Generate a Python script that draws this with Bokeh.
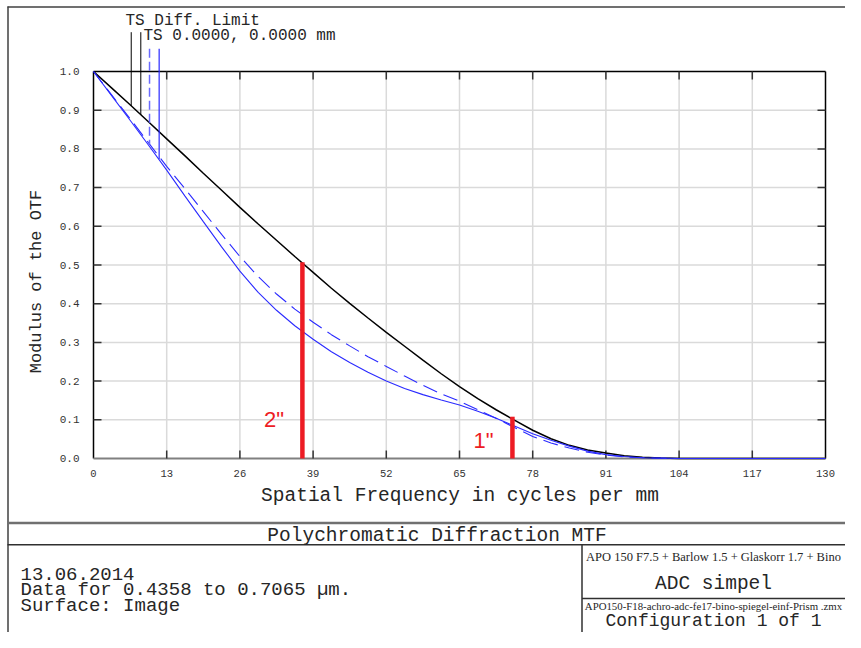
from bokeh.plotting import figure
from bokeh.models import Range1d
from bokeh.core.properties import value
from bokeh.embed import file_html
from bokeh.resources import INLINE

# ---------------- data ----------------
freq = [0, 3.25, 6.5, 9.75, 13, 16.25, 19.5, 22.75, 26, 29.25, 32.5, 35.75,
        39, 42.25, 45.5, 48.75, 52, 55.25, 58.5, 61.75, 65, 68.25, 71.5,
        74.75, 78, 81.25, 84.5, 87.75, 91, 94.25, 97.5, 100.75, 104,
        110.5, 117, 123.5, 130]
mtf_diff = [1.0, 0.957, 0.914, 0.870, 0.826, 0.782, 0.737, 0.693, 0.649, 0.606,
            0.564, 0.522, 0.481, 0.440, 0.401, 0.363, 0.326, 0.290, 0.254,
            0.219, 0.186, 0.155, 0.126, 0.099, 0.073, 0.051, 0.034, 0.022,
            0.014, 0.007, 0.0035, 0.001, 0.0,
            0.0, 0.0, 0.0, 0.0]
mtf_tan = [1.0, 0.937, 0.874, 0.810, 0.745, 0.678, 0.612, 0.547, 0.484, 0.429,
           0.383, 0.343, 0.308, 0.276, 0.248, 0.223, 0.200, 0.181, 0.165,
           0.151, 0.138, 0.122, 0.104, 0.084, 0.064, 0.047, 0.032, 0.019,
           0.010, 0.005, 0.002, 0.001, 0.0,
           0.0, 0.0, 0.0, 0.0]
mtf_sag = [1.0, 0.939, 0.878, 0.816, 0.755, 0.697, 0.638, 0.579, 0.522, 0.470,
           0.425, 0.386, 0.352, 0.320, 0.291, 0.263, 0.238, 0.213, 0.189,
           0.167, 0.148, 0.126, 0.104, 0.080, 0.057, 0.040, 0.027, 0.016,
           0.009, 0.004, 0.002, 0.0005, 0.0,
           0.0, 0.0, 0.0, 0.0]

x_ticks = [0, 13, 26, 39, 52, 65, 78, 91, 104, 117, 130]
x_tick_labels = ["0", "13", "26", "39", "52", "65", "78", "91", "104", "117", "130"]
y_ticks = [0.0, 0.1, 0.2, 0.3, 0.4, 0.5, 0.6, 0.7, 0.8, 0.9, 1.0]
y_tick_labels = ["0.0", "0.1", "0.2", "0.3", "0.4", "0.5", "0.6", "0.7", "0.8", "0.9", "1.0"]

# legend marker lines (frequency where they meet the curve, MTF there)
marker_freq = [6.7, 8.4, 9.95, 11.66]
marker_mtf = [0.911, 0.888, 0.812, 0.774]

# hand-drawn red marks (2" and 1" seeing)
mark_freq = [37.1, 74.4]
mark_mtf = [0.507, 0.108]
mark_labels = ['2"', '1"']

# ---------------- layout (pixels of the picture) ----------------
ORG_X, ORG_Y = 0, 0
W, H = 845, 632
X0_PX, X1_PX = 93, 825      # frequency 0 .. 130
Y0_PX, Y1_PX = 458, 71      # MTF 0 .. 1
FMAX = 130.0
SX = (X1_PX - X0_PX) / FMAX
SY = (Y0_PX - Y1_PX) / 1.0


def f_of_px(px):
    return (px - X0_PX) / SX


def m_of_px(py):
    return (Y0_PX - py) / SY


MONO = value("Liberation Mono")
SERIF = value("Liberation Serif")
SANS = value("Liberation Sans")
TXT = "#262626"

p = figure(width=W, height=H, output_backend="svg", toolbar_location=None,
           x_axis_location=None, y_axis_location=None,
           x_range=Range1d(f_of_px(ORG_X), f_of_px(ORG_X + W)),
           y_range=Range1d(m_of_px(ORG_Y + H), m_of_px(ORG_Y)),
           min_border=0, min_border_left=0, min_border_right=0,
           min_border_top=0, min_border_bottom=0)
p.outline_line_color = None
p.background_fill_color = "white"
p.border_fill_color = "white"
p.grid.visible = False
p.extra_x_ranges = {"px": Range1d(ORG_X, ORG_X + W)}
p.extra_y_ranges = {"px": Range1d(ORG_Y + H, ORG_Y)}


def label(x, y, texts, font, size, color=TXT, align="left", angle=0.0):
    p.text(x=x, y=y, text=texts, angle=angle,
           x_range_name="px", y_range_name="px",
           text_font=font, text_font_size=value(size), text_color=color,
           text_align=align, text_baseline="middle")


# ---------------- grid ----------------
inner_x = x_ticks[1:-1]
inner_y = y_ticks[1:-1]
p.segment(x0=inner_x, y0=[0] * len(inner_x), x1=inner_x, y1=[1] * len(inner_x),
          line_color="#dadada", line_width=1.5)
p.segment(x0=[0] * len(inner_y), y0=inner_y, x1=[FMAX] * len(inner_y), y1=inner_y,
          line_color="#dadada", line_width=1.5)

# ---------------- frame ----------------
p.segment(x0=[0, 0, FMAX], y0=[0, 1, 0], x1=[0, FMAX, FMAX], y1=[1, 1, 1],
          line_color="#000000", line_width=1.5)
p.segment(x0=[0], y0=[0], x1=[FMAX], y1=[0], line_color="#808080", line_width=2)

# ---------------- ticks (8 px, inside) ----------------
dy = 8 / SY
dx = 8 / SX
n = len(inner_x)
p.segment(x0=inner_x, y0=[0] * n, x1=inner_x, y1=[dy] * n, line_color="#333333", line_width=1.5)
p.segment(x0=inner_x, y0=[1] * n, x1=inner_x, y1=[1 - dy] * n, line_color="#333333", line_width=1.5)
m = len(inner_y)
p.segment(x0=[0] * m, y0=inner_y, x1=[dx] * m, y1=inner_y, line_color="#333333", line_width=1.5)
p.segment(x0=[FMAX] * m, y0=inner_y, x1=[FMAX - dx] * m, y1=inner_y, line_color="#333333", line_width=1.5)

# tick labels
p.text(x=x_ticks, y=[m_of_px(473)] * len(x_ticks), text=x_tick_labels,
       text_font=MONO, text_font_size=value("10.5px"), text_color="#333333",
       text_align="center", text_baseline="middle")
p.text(x=[f_of_px(79)] * len(y_ticks), y=y_ticks, text=y_tick_labels,
       text_font=MONO, text_font_size=value("11px"), text_color="#333333",
       text_align="right", text_baseline="middle")

# ---------------- curves ----------------
BLUE = "#2a2aff"
p.line(freq, mtf_diff, line_color="#000000", line_width=1.5)
p.line(freq, mtf_tan, line_color=BLUE, line_width=1.1)
p.line(freq, mtf_sag, line_color=BLUE, line_width=1.1, line_dash="15 7")

# legend marker lines
top_black = m_of_px(31.7)
top_blue = m_of_px(48.3)
p.segment(x0=marker_freq[:2], y0=[top_black] * 2, x1=marker_freq[:2], y1=marker_mtf[:2],
          line_color="#000000", line_width=1)
p.segment(x0=[marker_freq[2]], y0=[top_blue], x1=[marker_freq[2]], y1=[marker_mtf[2]],
          line_color="#6a6aff", line_width=1.5, line_dash="9 4")
p.segment(x0=[marker_freq[3]], y0=[top_blue], x1=[marker_freq[3]], y1=[marker_mtf[3]],
          line_color=BLUE, line_width=1.2)

# red seeing marks
p.segment(x0=mark_freq, y0=[0, 0], x1=mark_freq, y1=mark_mtf,
          line_color="#ed1c24", line_width=4.5)
label([273.5, 483], [419, 439.5], mark_labels, SANS, "22px", color="#ed1c24", align="center")

# ---------------- legend texts ----------------
label([125], [20], ["TS Diff. Limit"], MONO, "16px")
label([143], [35.5], ["TS 0.0000, 0.0000 mm"], MONO, "16px")

# ---------------- axis titles ----------------
label([459.5], [495], ["Spatial Frequency in cycles per mm"], MONO, "19.5px", align="center")
label([36], [281], ["Modulus of the OTF"], MONO, "17px", align="center", angle=1.5707963)

# ---------------- info box lines ----------------
R = ORG_X + W
B = ORG_Y + H
p.segment(x0=[7, 7.5], y0=[6.5, 6], x1=[R, 7.5], y1=[6.5, B], x_range_name="px", y_range_name="px",
          line_color="#404040", line_width=1.5)
p.segment(x0=[7], y0=[522.5], x1=[R], y1=[522.5], x_range_name="px", y_range_name="px",
          line_color="#707070", line_width=2.5)
p.segment(x0=[7, 581.5, 581.5], y0=[544.3, 544.3, 598], x1=[R, 581.5, R], y1=[544.3, B, 598],
          x_range_name="px", y_range_name="px", line_color="#303030", line_width=1.5)

# ---------------- info box texts ----------------
BOX_CX = 713
label([436.5], [535.5], ["Polychromatic Diffraction MTF"], MONO, "19.5px", align="center")
label([20, 20, 20], [573.7, 589.5, 605],
      ["13.06.2014", "Data for 0.4358 to 0.7065 \u00b5m.", "Surface: Image"], MONO, "19px")
label([BOX_CX], [556.5], ["APO 150 F7.5 + Barlow 1.5 + Glaskorr 1.7 + Bino"], SERIF, "12.5px",
      align="center")
label([BOX_CX], [583], ["ADC simpel"], MONO, "19.5px", align="center")
label([BOX_CX], [605.5], ["APO150-F18-achro-adc-fe17-bino-spiegel-einf-Prism .zmx"], SERIF, "10.8px",
      align="center")
label([BOX_CX], [620], ["Configuration 1 of 1"], MONO, "18px", align="center")

open("out.html", "w", encoding="utf-8").write(file_html(p, INLINE))
